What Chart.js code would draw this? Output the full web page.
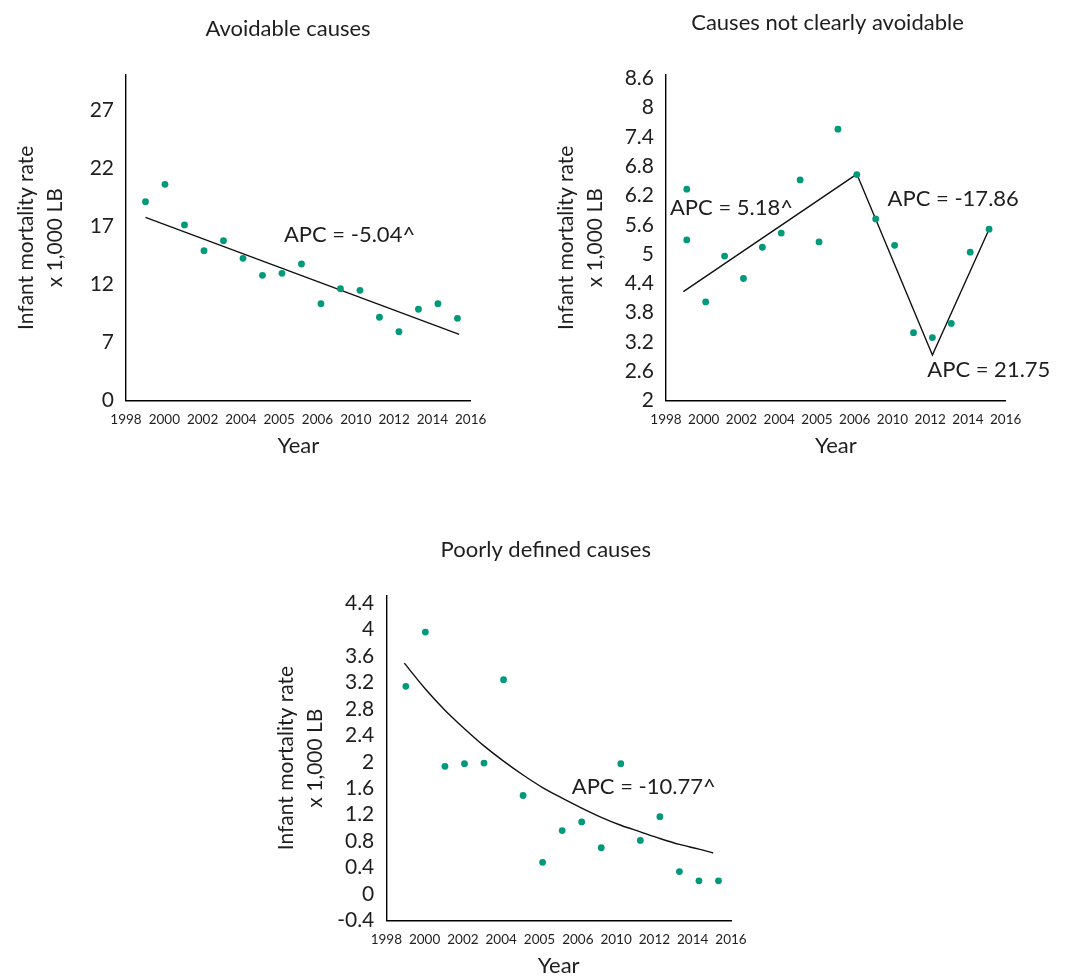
<!DOCTYPE html>
<html>
<head>
<meta charset="utf-8">
<script src="https://cdn.jsdelivr.net/npm/chart.js@4.4.0/dist/chart.umd.min.js"></script>
<style>
  html, body { margin: 0; padding: 0; background: #ffffff; overflow: hidden; }
  #wrap { position: relative; width: 1072px; height: 979px; }
  canvas { position: absolute; display: block; }
</style>
</head>
<body>
<div id="wrap">
  <canvas id="c1" width="535" height="475" style="left:0px;top:0px;width:535px;height:475px"></canvas>
  <canvas id="c2" width="537" height="475" style="left:535px;top:0px;width:537px;height:475px"></canvas>
  <canvas id="c3" width="540" height="459" style="left:260px;top:520px;width:540px;height:459px"></canvas>
</div>
<script>
// ---------- shared tick labels ----------
const xTickLabels = ['1998', '2000', '2002', '2004', '2005', '2006', '2010', '2012', '2014', '2016'];

// ---------- Avoidable causes ----------
const avoidYears = [1999, 2000, 2001, 2002, 2003, 2004, 2005, 2006, 2007, 2008, 2009, 2010, 2011, 2012, 2013, 2014, 2015];
const avoidRates = [19.10, 20.60, 17.10, 14.89, 15.75, 14.23, 12.77, 12.94, 13.74, 10.33, 11.62, 11.48, 9.16, 7.92, 9.85, 10.33, 9.07];
const avoidTrendYears = [1999, 2015.09];
const avoidTrendRates = [17.76, 7.69];
const avoidYTicks = [2, 7, 12, 17, 22, 27];
const avoidYTickLabels = ['0', '7', '12', '17', '22', '27'];

// ---------- Causes not clearly avoidable ----------
const notClearYears = [1999, 1999, 2000, 2001, 2002, 2003, 2004, 2005, 2006, 2007, 2008, 2009, 2010, 2011, 2012, 2013, 2014, 2015];
const notClearRates = [6.33, 5.29, 4.02, 4.96, 4.50, 5.14, 5.43, 6.52, 5.25, 7.56, 6.63, 5.72, 5.18, 3.39, 3.29, 3.58, 5.04, 5.51];
const notClearTrendYears = [1998.82, 2008, 2012, 2015];
const notClearTrendRates = [4.23, 6.64, 2.93, 5.51];
const notClearYTicks = [2, 2.6, 3.2, 3.8, 4.4, 5, 5.6, 6.2, 6.8, 7.4, 8, 8.6];
const notClearYTickLabels = ['2', '2.6', '3.2', '3.8', '4.4', '5', '5.6', '6.2', '6.8', '7.4', '8', '8.6'];

// ---------- Poorly defined causes ----------
const poorYears = [1999, 2000, 2001, 2002, 2003, 2004, 2005, 2006, 2007, 2008, 2009, 2010, 2011, 2012, 2013, 2014, 2015];
const poorRates = [3.14, 3.96, 1.93, 1.97, 1.98, 3.24, 1.49, 0.48, 0.96, 1.09, 0.70, 1.97, 0.81, 1.17, 0.34, 0.20, 0.20];
const poorTrendYears = [1998.92, 2000, 2001, 2002, 2003, 2004, 2005, 2006, 2007, 2008, 2009, 2010, 2011, 2012, 2013, 2014, 2014.73];
const poorTrendRates = [3.49, 3.10, 2.78, 2.50, 2.24, 2.01, 1.80, 1.61, 1.45, 1.30, 1.16, 1.04, 0.94, 0.84, 0.75, 0.68, 0.62];
const poorYTicks = [-0.4, 0, 0.4, 0.8, 1.2, 1.6, 2, 2.4, 2.8, 3.2, 3.6, 4, 4.4];
const poorYTickLabels = ['-0.4', '0', '0.4', '0.8', '1.2', '1.6', '2', '2.4', '2.8', '3.2', '3.6', '4', '4.4'];

// ---------- styling ----------
const FONT = 'Lato, "Open Sans", sans-serif';
const TEXT = '#1e1e1e';
const DOT = '#00997a';
const yTitleText = ['Infant mortality rate', 'x 1,000 LB'];

const overlayPlugin = {
  id: 'overlay',
  afterDraw(chart, args, opts) {
    const { ctx } = chart;
    const { x, y } = chart.scales;
    ctx.save();
    ctx.fillStyle = TEXT;
    ctx.textBaseline = 'middle';
    // panel title
    ctx.font = '22px ' + FONT;
    ctx.textAlign = 'center';
    ctx.fillText(opts.title, opts.titleX, opts.titleY);
    // APC annotations anchored in data space
    ctx.textAlign = 'left';
    opts.notes.forEach(n => {
      ctx.fillText(n.text, x.getPixelForValue(n.x), y.getPixelForValue(n.y));
    });
    ctx.restore();
  }
};

function pairs(xs, ys) { return xs.map((v, i) => ({ x: v, y: ys[i] })); }

function makePanel(id, p) {
  const xTickVals = xTickLabels.map((_, i) => p.xMin + i * (p.xMax - p.xMin) / (xTickLabels.length - 1));
  return new Chart(document.getElementById(id), {
    type: 'scatter',
    data: {
      datasets: [
        {
          data: pairs(p.trendX, p.trendY),
          showLine: true,
          borderColor: '#111',
          borderWidth: 1.4,
          pointRadius: 0,
          fill: false,
          cubicInterpolationMode: p.curve ? 'monotone' : 'default',
          tension: 0,
          order: 2
        },
        {
          data: pairs(p.years, p.rates),
          showLine: false,
          pointRadius: 3.4,
          pointBackgroundColor: DOT,
          pointBorderColor: DOT,
          pointBorderWidth: 0,
          order: 1
        }
      ]
    },
    options: {
      responsive: false,
      animation: false,
      events: [],
      layout: { padding: { left: 0, right: p.padRight, top: p.padTop, bottom: 0 } },
      plugins: {
        legend: { display: false },
        tooltip: { enabled: false },
        title: { display: false },
        overlay: { title: p.title, titleX: p.titleX, titleY: p.titleY, notes: p.notes }
      },
      scales: {
        x: {
          type: 'linear',
          min: p.xMin,
          max: p.xMax,
          border: { display: true, color: '#000', width: 1.4 },
          grid: { display: false, drawTicks: false },
          ticks: {
            autoSkip: false, maxRotation: 0, minRotation: 0,
            padding: p.xTickPad,
            color: TEXT,
            font: { family: FONT, size: 13.5 },
            callback: (v, i) => xTickLabels[i]
          },
          afterBuildTicks: s => { s.ticks = xTickVals.map(v => ({ value: v })); },
          afterFit: s => { s.height = p.xAxisH; },
          title: {
            display: true, text: 'Year', color: TEXT,
            font: { family: FONT, size: 22, lineHeight: 1.2 },
            padding: { top: 0, bottom: p.xTitlePad }
          }
        },
        y: {
          type: 'linear',
          min: p.yMin,
          max: p.yMax,
          border: { display: true, color: '#000', width: 1.4 },
          grid: { display: false, drawTicks: false },
          ticks: {
            autoSkip: false,
            padding: 12,
            color: TEXT,
            font: { family: FONT, size: 21 },
            callback: (v, i) => p.yLabels[i]
          },
          afterBuildTicks: s => { s.ticks = p.yTicks.map(v => ({ value: v })); },
          afterFit: s => { s.width = p.yAxisW; },
          title: {
            display: true, text: yTitleText, color: TEXT,
            font: { family: FONT, size: 21, lineHeight: 1.38 },
            padding: { top: p.yTitlePad, bottom: 0 }
          }
        }
      }
    },
    plugins: [overlayPlugin]
  });
}

makePanel('c1', {
  title: 'Avoidable causes', titleX: 288, titleY: 29,
  years: avoidYears, rates: avoidRates, trendX: avoidTrendYears, trendY: avoidTrendRates, curve: false,
  xMin: 1998, xMax: 2015.68, yMin: 2, yMax: 30,
  yTicks: avoidYTicks, yLabels: avoidYTickLabels,
  padTop: 75, padRight: 64.3, yAxisW: 126, xAxisH: 74.5,
  xTickPad: 11, xTitlePad: 15.5, yTitlePad: 11.5,
  notes: [{ text: 'APC = -5.04^', x: 2006.1, y: 16.24 }]
});

makePanel('c2', {
  title: 'Causes not clearly avoidable', titleX: 292.5, titleY: 23.3,
  years: notClearYears, rates: notClearRates, trendX: notClearTrendYears, trendY: notClearTrendRates, curve: false,
  xMin: 1997.9, xMax: 2015.88, yMin: 2, yMax: 8.67,
  yTicks: notClearYTicks, yLabels: notClearYTickLabels,
  padTop: 75, padRight: 66.3, yAxisW: 131, xAxisH: 74.5,
  xTickPad: 11, xTitlePad: 15.8, yTitlePad: 16.3,
  notes: [
    { text: 'APC = 5.18^', x: 1998.11, y: 5.94 },
    { text: 'APC = -17.86', x: 2009.63, y: 6.14 },
    { text: 'APC = 21.75', x: 2011.73, y: 2.63 }
  ]
});

makePanel('c3', {
  title: 'Poorly defined causes', titleX: 285.8, titleY: 30,
  years: poorYears, rates: poorRates, trendX: poorTrendYears, trendY: poorTrendRates, curve: true,
  xMin: 1998, xMax: 2015.64, yMin: -0.4, yMax: 4.51,
  yTicks: poorYTicks, yLabels: poorYTickLabels,
  padTop: 75.7, padRight: 69, yAxisW: 126.3, xAxisH: 58.5,
  xTickPad: 11.5, xTitlePad: 0, yTitlePad: 11.7,
  notes: [{ text: 'APC = -10.77^', x: 2007.49, y: 1.62 }]
});
</script>
</body>
</html>
